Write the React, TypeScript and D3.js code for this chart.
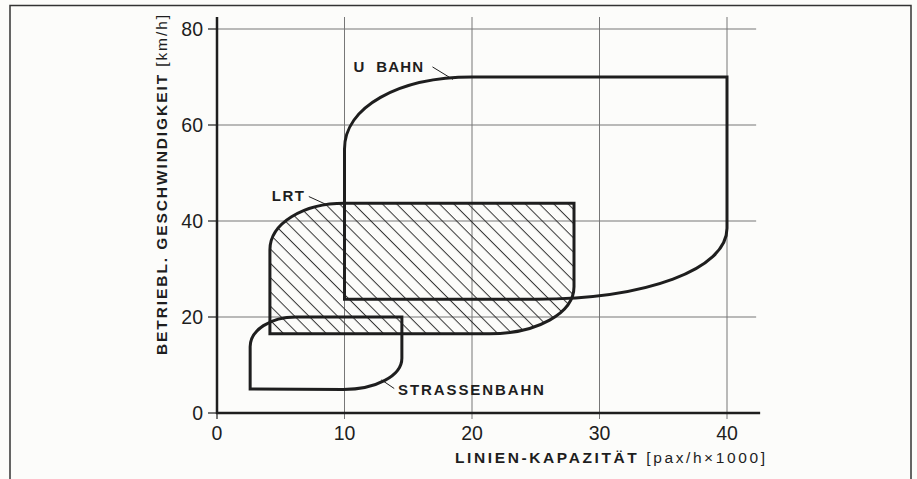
import React from "react";
import * as d3 from "d3";

// axis ticks
const xTicks = [0, 10, 20, 30, 40];
const yTicks = [0, 20, 40, 60, 80];
const xGrid = [10, 20, 30, 40];
const yGrid = [20, 40, 60, 80];

// outlines in data units: M/L = point, C = rounded corner (corner x,y, end x,y)
type Seg = [string, ...number[]];

const uBahn: Seg[] = [
  ["M", 10, 23.7],
  ["L", 10, 55],
  ["C", 10, 70, 20, 70],
  ["L", 40, 70],
  ["L", 40, 38.5],
  ["C", 40, 23.7, 25, 23.7],
  ["Z"],
];

const lrt: Seg[] = [
  ["M", 4.15, 16.5],
  ["L", 4.15, 34],
  ["C", 4.15, 43.7, 10, 43.7],
  ["L", 28, 43.7],
  ["L", 28, 26.3],
  ["C", 28, 16.5, 21.4, 16.5],
  ["Z"],
];

const strassenbahn: Seg[] = [
  ["M", 2.6, 5],
  ["L", 2.6, 13.8],
  ["C", 2.6, 20, 6.2, 20],
  ["L", 14.5, 20],
  ["L", 14.5, 11.4],
  ["C", 14.5, 4.9, 9.9, 4.9],
  ["Z"],
];

// labels: text anchor (left, middle) and leader line [from, to]
const labels = [
  { text: "U  BAHN", x: 10.7, y: 72.1, spacing: 1.2, leader: [[16.9, 72.1], [18.5, 69.5]] },
  { text: "LRT", x: 4.3, y: 45.3, spacing: 1.5, leader: [[7.2, 45.1], [8.6, 43.4]] },
  { text: "STRASSENBAHN", x: 14.2, y: 4.8, spacing: 1.9, leader: [[13.9, 5.1], [12.9, 6.9]] },
];

const W = 917;
const H = 479;
const x = d3.scaleLinear().domain([0, 40]).range([217, 727]);
const y = d3.scaleLinear().domain([0, 80]).range([413, 29]);
const xMax = 42.6;
const yMax = 82.5;

function outline(segs: Seg[], k = 0.56) {
  const p = d3.path();
  let cx = 0;
  let cy = 0;
  for (const s of segs) {
    if (s[0] === "M") {
      cx = x(s[1]); cy = y(s[2]);
      p.moveTo(cx, cy);
    } else if (s[0] === "L") {
      cx = x(s[1]); cy = y(s[2]);
      p.lineTo(cx, cy);
    } else if (s[0] === "C") {
      const kx = x(s[1]), ky = y(s[2]);
      const ex = x(s[3]), ey = y(s[4]);
      p.bezierCurveTo(
        cx + k * (kx - cx), cy + k * (ky - cy),
        ex + k * (kx - ex), ey + k * (ky - ey),
        ex, ey
      );
      cx = ex; cy = ey;
    } else {
      p.closePath();
    }
  }
  return p.toString();
}

const font = "'Liberation Sans', Arial, sans-serif";
const ink = "#1e1e1e";

export default function App() {
  return (
    <svg
      width={W}
      height={H}
      viewBox={`0 0 ${W} ${H}`}
      style={{ position: "absolute", left: 0, top: 0, background: "#fcfcfa" }}
    >
      <defs>
        <pattern id="hatch" patternUnits="userSpaceOnUse" width={10.1} height={10.1}
          patternTransform="rotate(-45)">
          <line x1={5} y1={0} x2={5} y2={10.1} stroke="#333" strokeWidth={1} />
        </pattern>
      </defs>

      {/* frame, open at the bottom edge of the picture */}
      <rect x={10} y={5.5} width={901} height={490} fill="none" stroke="#333" strokeWidth={1.5} />

      {/* grid */}
      {xGrid.map((d) => (
        <line key={"gx" + d} x1={x(d)} x2={x(d)} y1={y(0) + 6} y2={y(yMax)} stroke="#777" strokeWidth={1} />
      ))}
      {yGrid.map((d) => (
        <line key={"gy" + d} x1={x(0)} x2={x(xMax) - 4} y1={y(d)} y2={y(d)} stroke="#777" strokeWidth={1} />
      ))}
      {yTicks.map((d) => (
        <line key={"ty" + d} x1={x(0) - 9} x2={x(0)} y1={y(d)} y2={y(d)} stroke={ink} strokeWidth={1.2} />
      ))}
      <line x1={x(0)} x2={x(0)} y1={y(0)} y2={y(0) + 6} stroke={ink} strokeWidth={1.2} />

      {/* hatched LRT area */}
      <path d={outline(lrt)} fill="url(#hatch)" stroke="none" />

      {/* axes */}
      <line x1={x(0)} x2={x(0)} y1={y(0) + 1} y2={y(yMax)} stroke={ink} strokeWidth={2.5} />
      <line x1={x(0) - 1} x2={x(xMax)} y1={y(0)} y2={y(0)} stroke={ink} strokeWidth={2.5} />

      {/* outlines */}
      {[lrt, uBahn, strassenbahn].map((s, i) => (
        <path key={"o" + i} d={outline(s, i === 1 ? 0.58 : 0.56)} fill="none" stroke={ink}
          strokeWidth={3} strokeLinejoin="miter" />
      ))}

      {/* tick labels */}
      {yTicks.map((d) => (
        <text key={"ly" + d} x={x(0) - 14} y={y(d)} dy="0.35em" textAnchor="end"
          fontFamily={font} fontSize={19.5} fill={ink}>{d}</text>
      ))}
      {xTicks.map((d) => (
        <text key={"lx" + d} x={x(d)} y={y(0) + 20} dy="0.35em" textAnchor="middle"
          fontFamily={font} fontSize={19.5} fill={ink}>{d}</text>
      ))}

      {/* series labels */}
      {labels.map((l) => (
        <g key={l.text}>
          <text x={x(l.x)} y={y(l.y)} dy="0.36em" fontFamily={font} fontSize={15}
            fontWeight="bold" letterSpacing={l.spacing} fill={ink} style={{ whiteSpace: "pre" }}>{l.text}</text>
          <line x1={x(l.leader[0][0])} y1={y(l.leader[0][1])} x2={x(l.leader[1][0])} y2={y(l.leader[1][1])}
            stroke={ink} strokeWidth={1} />
        </g>
      ))}

      {/* axis titles */}
      <text x={455} y={458} dy="0.35em" fontFamily={font} fontSize={15.5} fill={ink}
        textLength={310} lengthAdjust="spacing">
        <tspan fontWeight="bold">LINIEN-KAPAZITÄT </tspan>
        <tspan>[pax/h×1000]</tspan>
      </text>
      <text transform="translate(162,355) rotate(-90)" dy="0.35em"
        fontFamily={font} fontSize={15.5} fill={ink} textLength={340} lengthAdjust="spacing">
        <tspan fontWeight="bold">BETRIEBL. GESCHWINDIGKEIT </tspan>
        <tspan>[km/h]</tspan>
      </text>
    </svg>
  );
}
